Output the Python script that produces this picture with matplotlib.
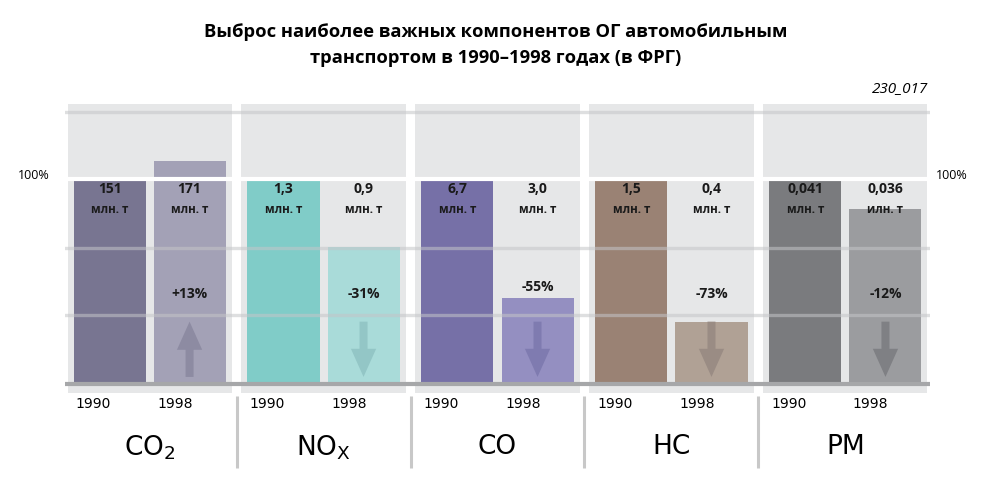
import numpy as np
import matplotlib
matplotlib.use("Agg")
import matplotlib.pyplot as plt
from matplotlib.patches import FancyArrow

# data (1990 = 100 %)
components = ["CO$_2$", "NO$_\\mathrm{X}$", "CO", "HC", "PM"]
years = ["1990", "1998"]
values_1990 = ["151", "1,3", "6,7", "1,5", "0,041"]
values_1998 = ["171", "0,9", "3,0", "0,4", "0,036"]
units_1990 = ["млн. т"] * 5
units_1998 = ["млн. т", "млн. т", "млн. т", "млн. т", "илн. т"]
pct_1990 = [100, 100, 100, 100, 100]
pct_1998 = [110, 67, 42, 30, 86]          # bar heights as drawn
change_labels = ["+13%", "-31%", "-55%", "-73%", "-12%"]

colors_1990 = ["#787591", "#80ccc8", "#7670a7", "#9a8274", "#7a7b7e"]
colors_1998 = ["#a3a1b6", "#a9dbd9", "#948fc1", "#b0a195", "#9b9c9f"]
arrow_colors = ["#8d8ba2", "#93c6c6", "#7f7bb0", "#9a8c84", "#7f8084"]

panel_bg = "#e6e7e8"
narrow = ["Liberation Sans Narrow", "DejaVu Sans"]
plain = ["Open Sans", "DejaVu Sans"]

fig = plt.figure(figsize=(9.92, 5.01), dpi=100)
ax = fig.add_axes([65 / 992, 108 / 501, 865 / 992, 289 / 501])
ax.set_xlim(-0.486, 4.486)
ax.set_ylim(-5.5, 138.3)
ax.axis("off")

x = np.arange(len(components))
off = 0.23
bw = 0.414

# panel backgrounds
ax.bar(x, 138.3 + 5.5, bottom=-5.5, width=0.943, color=panel_bg, zorder=0)

# bars
ax.bar(x - off, pct_1990, width=bw, color=colors_1990, zorder=2)
ax.bar(x + off, pct_1998, width=bw, color=colors_1998, zorder=2)

# grid lines over everything
for g in [100 / 3, 200 / 3, 134.5]:
    ax.axhline(g, color="#c4c5c8", lw=2.4, alpha=0.55, zorder=3)
ax.axhline(101, color="white", lw=3, zorder=4)
ax.axhline(-1, color="#a6a7a9", lw=3, zorder=4)

# arrows
for i in range(len(components)):
    if change_labels[i].startswith("+"):
        y0, dy = 2.5, 27.5
    else:
        y0, dy = 30, -27.5
    ax.add_patch(FancyArrow(x[i] + off, y0, 0, dy, width=0.046,
                            head_width=0.145, head_length=14,
                            length_includes_head=True,
                            color=arrow_colors[i], lw=0, zorder=5))

# value labels
for i in range(len(components)):
    for xx, v, u in [(x[i] - off, values_1990[i], units_1990[i]),
                     (x[i] + off, values_1998[i], units_1998[i])]:
        ax.text(xx, 96, v, ha="center", va="center", fontsize=10,
                fontweight="bold", family=plain, color="#1a1a1a", zorder=6)
        ax.text(xx, 86, u, ha="center", va="center", fontsize=8.3,
                fontweight="bold", family=plain, color="#1a1a1a", zorder=6)
    h = pct_1998[i]
    ly = h + 5 if 35 < h < 44 else 44
    ax.text(x[i] + off, ly, change_labels[i],
            ha="center", va="center", fontsize=10, fontweight="bold",
            family=plain, color="#1a1a1a", zorder=6)

# year and component labels below
for i in range(len(components)):
    ax.text(x[i] - off - bw / 2 + 0.01, -10.9, years[0], ha="left",
            va="center", fontsize=10, family=narrow, clip_on=False)
    ax.text(x[i] + off - bw / 2 + 0.02, -10.9, years[1], ha="left",
            va="center", fontsize=10, family=narrow, clip_on=False)
    ax.text(x[i], -32.5, components[i], ha="center", va="center",
            fontsize=19, family=narrow, clip_on=False)
for i in range(len(components) - 1):
    ax.plot([x[i] + 0.5, x[i] + 0.5], [-6.8, -43], color="#c8c8c8",
            lw=2.2, clip_on=False, solid_capstyle="butt")

ax.text(-0.664, 102.5, "100%", ha="center", va="center", fontsize=9,
        family=plain, clip_on=False)
ax.text(4.61, 102.5, "100%", ha="center", va="center", fontsize=9,
        family=plain, clip_on=False)
ax.text(4.474, 146, "230_017", ha="right", va="center", fontsize=11,
        style="italic", family=plain, clip_on=False)

fig.text(0.5, 1 - 32 / 501, "Выброс наиболее важных компонентов ОГ автомобильным",
         ha="center", va="center", fontsize=13.2, fontweight="bold", family=plain)
fig.text(0.5, 1 - 58 / 501, "транспортом в 1990–1998 годах (в ФРГ)",
         ha="center", va="center", fontsize=13.2, fontweight="bold", family=plain)

fig.savefig("out.png", dpi=100)
